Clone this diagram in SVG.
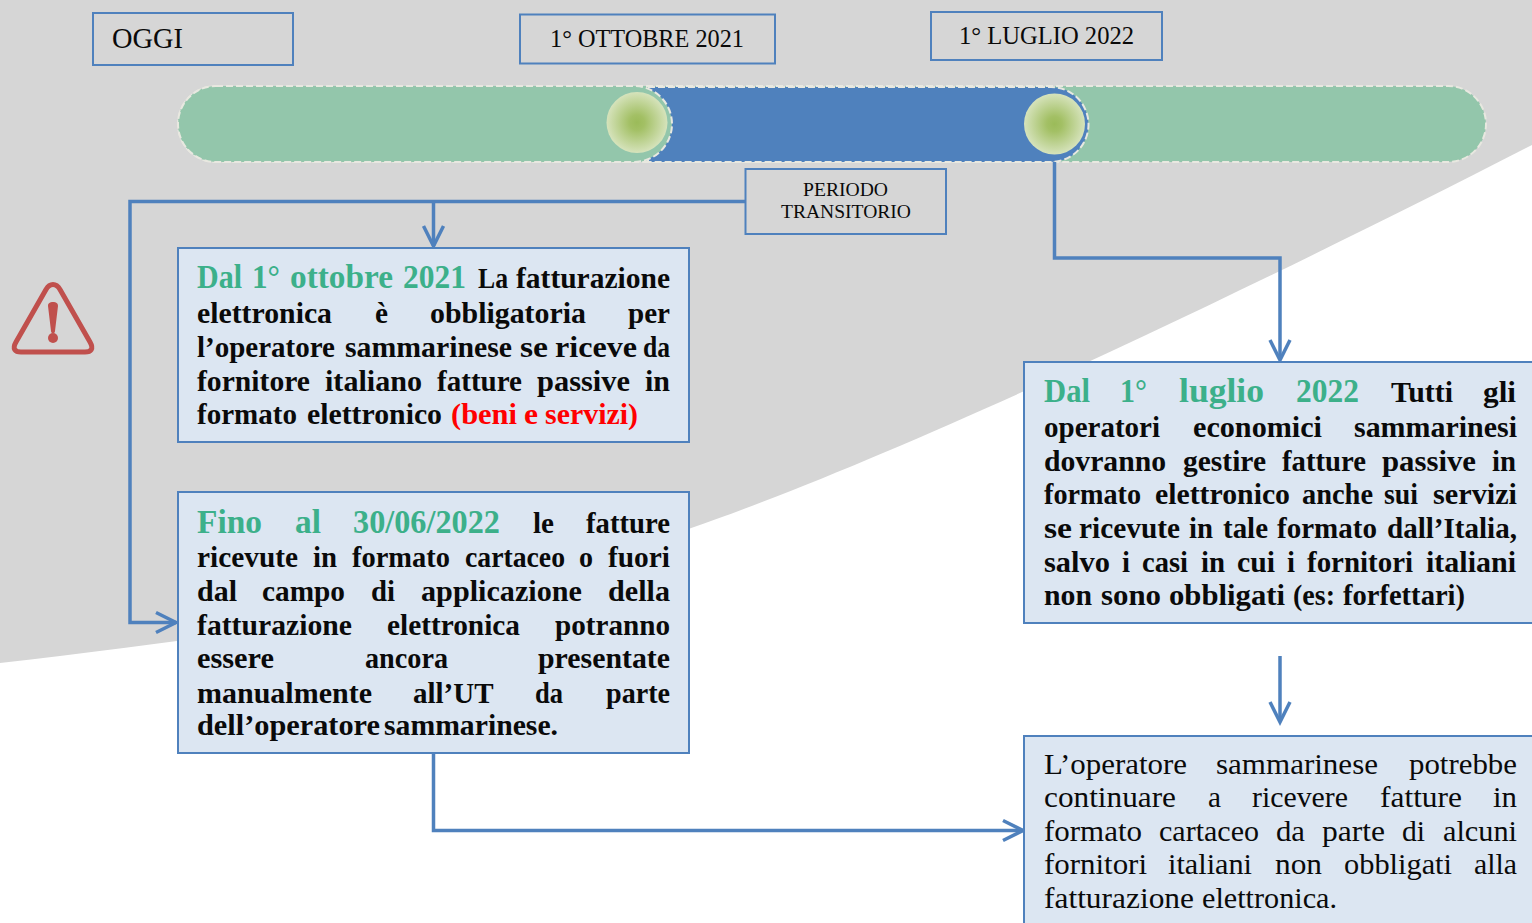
<svg xmlns="http://www.w3.org/2000/svg" width="1532" height="923" viewBox="0 0 1532 923">
<style>
text{font-family:"Liberation Serif","Times New Roman",serif;fill:#0a0a0a}
#box1 text,#box2 text,#box3 text,#box4 text{transform:translateY(1px)}
.b{font-weight:700;font-size:30px}
.h{font-weight:700;font-size:33px;fill:#3cb08a}
.r{font-size:29px}
.red{fill:#ff0000}
.hb{fill:none;stroke:#4f81bd;stroke-width:2}
.tb{fill:#dce6f2;stroke:#4f81bd;stroke-width:2}
.c{fill:none;stroke:#4f81bd;stroke-width:3.5}
.g{fill:#93c6ab;stroke:#e8e8e0;stroke-width:2;stroke-dasharray:7 3}
</style>
<defs>
<radialGradient id="ball"><stop offset="0" stop-color="#9bbb59"/><stop offset="0.25" stop-color="#a3c065"/><stop offset="1" stop-color="#d6e3bc"/></radialGradient>
<marker id="ah" markerUnits="userSpaceOnUse" markerWidth="26" markerHeight="28" refX="22" refY="14" orient="auto"><path d="M2 4 L22 14 L2 24" fill="none" stroke="#4f81bd" stroke-width="3.5"/></marker>
</defs>
<rect width="1532" height="923" fill="#fff"/>
<path d="M0 0H1532V145C1230 300 850 480 640 545C430 610 200 640 0 663Z" fill="#d6d6d6"/>
<g id="timeline">
<rect class="g" x="178" y="86" width="1308" height="76" rx="38"/>
<path d="M648 87H1051A37.500 37.500 0 0 1 1051 162H648Z" fill="#4f81bd" stroke="#e8e8e0" stroke-width="2" stroke-dasharray="7 3"/>
<rect class="g" x="178" y="86" width="494" height="76" rx="38"/>
<circle cx="637" cy="122.500" r="30.500" fill="url(#ball)"/>
<circle cx="1054.500" cy="124" r="30.500" fill="url(#ball)"/>
</g>
<g id="connectors">
<path class="c" d="M745 201.500H130V622.500H176" marker-end="url(#ah)"/>
<path class="c" d="M433.500 201.500V246" marker-end="url(#ah)"/>
<path class="c" d="M1054.500 162V258H1280V360" marker-end="url(#ah)"/>
<path class="c" d="M1280 656V722" marker-end="url(#ah)"/>
<path class="c" d="M433.500 753V830.500H1023" marker-end="url(#ah)"/>
</g>
<g id="warning">
<path d="M53 284.500C50 284.500 48 286 46 289.500L16 342C12 349 15 352 21 352H85C91 352 94 349 90 342L60 289.500C58 286 56 284.500 53 284.500Z" fill="none" stroke="#c0504d" stroke-width="5"/>
<path d="M48 306C48 303 50 302 53 302C56 302 58 303 58 306L55 331C55 334 51 334 51 331Z" fill="#c0504d"/>
<circle cx="53" cy="338" r="5" fill="#c0504d"/>
</g>
<g id="oggi"><rect class="hb" x="93" y="13" width="200" height="52"/><text x="112" y="48" font-size="29" textLength="71" lengthAdjust="spacingAndGlyphs">OGGI</text></g>
<g id="ottobre"><rect class="hb" x="520" y="14.500" width="255" height="49"/><text x="550" y="47" font-size="25" textLength="194" lengthAdjust="spacingAndGlyphs">1° OTTOBRE 2021</text></g>
<g id="luglio"><rect class="hb" x="931" y="12" width="231" height="48"/><text x="959" y="44" font-size="25" textLength="175" lengthAdjust="spacingAndGlyphs">1° LUGLIO 2022</text></g>
<g id="periodo"><rect class="hb" x="745.500" y="169" width="200.500" height="65"/><text x="803" y="196" font-size="19" textLength="85" lengthAdjust="spacingAndGlyphs">PERIODO</text><text x="781" y="218" font-size="19" textLength="130" lengthAdjust="spacingAndGlyphs">TRANSITORIO</text></g>
<g id="box1"><rect class="tb" x="178" y="248" width="511" height="194"/>
<text y="287"><tspan class="h" x="197" textLength="45" lengthAdjust="spacingAndGlyphs">Dal</tspan> <tspan class="h" x="252" textLength="28" lengthAdjust="spacingAndGlyphs">1°</tspan> <tspan class="h" x="290" textLength="103" lengthAdjust="spacingAndGlyphs">ottobre</tspan> <tspan class="h" x="403" textLength="63" lengthAdjust="spacingAndGlyphs">2021</tspan> <tspan class="b" x="478" textLength="30" lengthAdjust="spacingAndGlyphs">La</tspan> <tspan class="b" x="516" textLength="154" lengthAdjust="spacingAndGlyphs">fatturazione</tspan></text>
<text y="322" class="b"><tspan x="197" textLength="135" lengthAdjust="spacingAndGlyphs">elettronica</tspan> <tspan x="375" textLength="13" lengthAdjust="spacingAndGlyphs">è</tspan> <tspan x="430" textLength="156" lengthAdjust="spacingAndGlyphs">obbligatoria</tspan> <tspan x="628" textLength="42" lengthAdjust="spacingAndGlyphs">per</tspan></text>
<text y="356" class="b"><tspan x="197" textLength="138" lengthAdjust="spacingAndGlyphs">l’operatore</tspan> <tspan x="345" textLength="167" lengthAdjust="spacingAndGlyphs">sammarinese</tspan> <tspan x="520" textLength="28" lengthAdjust="spacingAndGlyphs">se</tspan> <tspan x="555" textLength="82" lengthAdjust="spacingAndGlyphs">riceve</tspan> <tspan x="643" textLength="27" lengthAdjust="spacingAndGlyphs">da</tspan></text>
<text y="390" class="b"><tspan x="197" textLength="113" lengthAdjust="spacingAndGlyphs">fornitore</tspan> <tspan x="325" textLength="97" lengthAdjust="spacingAndGlyphs">italiano</tspan> <tspan x="437" textLength="85" lengthAdjust="spacingAndGlyphs">fatture</tspan> <tspan x="537" textLength="93" lengthAdjust="spacingAndGlyphs">passive</tspan> <tspan x="645" textLength="25" lengthAdjust="spacingAndGlyphs">in</tspan></text>
<text y="423" class="b"><tspan x="197" textLength="100" lengthAdjust="spacingAndGlyphs">formato</tspan> <tspan x="307" textLength="135" lengthAdjust="spacingAndGlyphs">elettronico</tspan> <tspan class="red" x="451" textLength="66" lengthAdjust="spacingAndGlyphs">(beni</tspan> <tspan class="red" x="524" textLength="14" lengthAdjust="spacingAndGlyphs">e</tspan> <tspan class="red" x="545" textLength="93" lengthAdjust="spacingAndGlyphs">servizi)</tspan></text>
</g>
<g id="box2"><rect class="tb" x="178" y="492" width="511" height="261"/>
<text y="532"><tspan class="h" x="197" textLength="65" lengthAdjust="spacingAndGlyphs">Fino</tspan> <tspan class="h" x="295" textLength="26" lengthAdjust="spacingAndGlyphs">al</tspan> <tspan class="h" x="353" textLength="147" lengthAdjust="spacingAndGlyphs">30/06/2022</tspan> <tspan class="b" x="533" textLength="21" lengthAdjust="spacingAndGlyphs">le</tspan> <tspan class="b" x="586" textLength="84" lengthAdjust="spacingAndGlyphs">fatture</tspan></text>
<text y="566" class="b"><tspan x="197" textLength="101" lengthAdjust="spacingAndGlyphs">ricevute</tspan> <tspan x="313" textLength="24" lengthAdjust="spacingAndGlyphs">in</tspan> <tspan x="352" textLength="98" lengthAdjust="spacingAndGlyphs">formato</tspan> <tspan x="465" textLength="100" lengthAdjust="spacingAndGlyphs">cartaceo</tspan> <tspan x="579" textLength="14" lengthAdjust="spacingAndGlyphs">o</tspan> <tspan x="608" textLength="62" lengthAdjust="spacingAndGlyphs">fuori</tspan></text>
<text y="600" class="b"><tspan x="197" textLength="40" lengthAdjust="spacingAndGlyphs">dal</tspan> <tspan x="262" textLength="83" lengthAdjust="spacingAndGlyphs">campo</tspan> <tspan x="371" textLength="24" lengthAdjust="spacingAndGlyphs">di</tspan> <tspan x="421" textLength="161" lengthAdjust="spacingAndGlyphs">applicazione</tspan> <tspan x="608" textLength="62" lengthAdjust="spacingAndGlyphs">della</tspan></text>
<text y="634" class="b"><tspan x="197" textLength="155" lengthAdjust="spacingAndGlyphs">fatturazione</tspan> <tspan x="387" textLength="133" lengthAdjust="spacingAndGlyphs">elettronica</tspan> <tspan x="555" textLength="115" lengthAdjust="spacingAndGlyphs">potranno</tspan></text>
<text y="667" class="b"><tspan x="197" textLength="77" lengthAdjust="spacingAndGlyphs">essere</tspan> <tspan x="365" textLength="83" lengthAdjust="spacingAndGlyphs">ancora</tspan> <tspan x="538" textLength="132" lengthAdjust="spacingAndGlyphs">presentate</tspan></text>
<text y="701.500" class="b"><tspan x="197" textLength="175" lengthAdjust="spacingAndGlyphs">manualmente</tspan> <tspan x="413" textLength="80" lengthAdjust="spacingAndGlyphs">all’UT</tspan> <tspan x="535" textLength="28" lengthAdjust="spacingAndGlyphs">da</tspan> <tspan x="606" textLength="64" lengthAdjust="spacingAndGlyphs">parte</tspan></text>
<text y="734" class="b"><tspan x="197" textLength="183" lengthAdjust="spacingAndGlyphs">dell’operatore</tspan> <tspan x="384" textLength="174" lengthAdjust="spacingAndGlyphs">sammarinese.</tspan></text>
</g>
<g id="box3"><rect class="tb" x="1024" y="362" width="516" height="261"/>
<text y="401"><tspan class="h" x="1044" textLength="46" lengthAdjust="spacingAndGlyphs">Dal</tspan> <tspan class="h" x="1120" textLength="27" lengthAdjust="spacingAndGlyphs">1°</tspan> <tspan class="h" x="1179" textLength="85" lengthAdjust="spacingAndGlyphs">luglio</tspan> <tspan class="h" x="1296" textLength="63" lengthAdjust="spacingAndGlyphs">2022</tspan> <tspan class="b" x="1391" textLength="62" lengthAdjust="spacingAndGlyphs">Tutti</tspan> <tspan class="b" x="1483" textLength="33" lengthAdjust="spacingAndGlyphs">gli</tspan></text>
<text y="436" class="b"><tspan x="1044" textLength="116" lengthAdjust="spacingAndGlyphs">operatori</tspan> <tspan x="1193" textLength="129" lengthAdjust="spacingAndGlyphs">economici</tspan> <tspan x="1354" textLength="163" lengthAdjust="spacingAndGlyphs">sammarinesi</tspan></text>
<text y="470" class="b"><tspan x="1044" textLength="122" lengthAdjust="spacingAndGlyphs">dovranno</tspan> <tspan x="1183" textLength="83" lengthAdjust="spacingAndGlyphs">gestire</tspan> <tspan x="1282" textLength="84" lengthAdjust="spacingAndGlyphs">fatture</tspan> <tspan x="1382" textLength="94" lengthAdjust="spacingAndGlyphs">passive</tspan> <tspan x="1492" textLength="24" lengthAdjust="spacingAndGlyphs">in</tspan></text>
<text y="503" class="b"><tspan x="1044" textLength="97" lengthAdjust="spacingAndGlyphs">formato</tspan> <tspan x="1155" textLength="135" lengthAdjust="spacingAndGlyphs">elettronico</tspan> <tspan x="1302" textLength="71" lengthAdjust="spacingAndGlyphs">anche</tspan> <tspan x="1384" textLength="34" lengthAdjust="spacingAndGlyphs">sui</tspan> <tspan x="1433" textLength="84" lengthAdjust="spacingAndGlyphs">servizi</tspan></text>
<text y="537" class="b"><tspan x="1044" textLength="28" lengthAdjust="spacingAndGlyphs">se</tspan> <tspan x="1079" textLength="101" lengthAdjust="spacingAndGlyphs">ricevute</tspan> <tspan x="1189" textLength="24" lengthAdjust="spacingAndGlyphs">in</tspan> <tspan x="1223" textLength="45" lengthAdjust="spacingAndGlyphs">tale</tspan> <tspan x="1277" textLength="100" lengthAdjust="spacingAndGlyphs">formato</tspan> <tspan x="1387" textLength="130" lengthAdjust="spacingAndGlyphs">dall’Italia,</tspan></text>
<text y="571" class="b"><tspan x="1044" textLength="66" lengthAdjust="spacingAndGlyphs">salvo</tspan> <tspan x="1122" textLength="8" lengthAdjust="spacingAndGlyphs">i</tspan> <tspan x="1142" textLength="46" lengthAdjust="spacingAndGlyphs">casi</tspan> <tspan x="1201" textLength="24" lengthAdjust="spacingAndGlyphs">in</tspan> <tspan x="1237" textLength="38" lengthAdjust="spacingAndGlyphs">cui</tspan> <tspan x="1287" textLength="8" lengthAdjust="spacingAndGlyphs">i</tspan> <tspan x="1307" textLength="106" lengthAdjust="spacingAndGlyphs">fornitori</tspan> <tspan x="1426" textLength="90" lengthAdjust="spacingAndGlyphs">italiani</tspan></text>
<text y="604" class="b"><tspan x="1044" textLength="48" lengthAdjust="spacingAndGlyphs">non</tspan> <tspan x="1101" textLength="60" lengthAdjust="spacingAndGlyphs">sono</tspan> <tspan x="1169" textLength="116" lengthAdjust="spacingAndGlyphs">obbligati</tspan> <tspan x="1293" textLength="42" lengthAdjust="spacingAndGlyphs">(es:</tspan> <tspan x="1343" textLength="122" lengthAdjust="spacingAndGlyphs">forfettari)</tspan></text>
</g>
<g id="box4"><rect class="tb" x="1024" y="736" width="516" height="194"/>
<text y="773" class="r"><tspan x="1044" textLength="143" lengthAdjust="spacingAndGlyphs">L’operatore</tspan> <tspan x="1216" textLength="162" lengthAdjust="spacingAndGlyphs">sammarinese</tspan> <tspan x="1409" textLength="108" lengthAdjust="spacingAndGlyphs">potrebbe</tspan></text>
<text y="806" class="r"><tspan x="1044" textLength="132" lengthAdjust="spacingAndGlyphs">continuare</tspan> <tspan x="1208" textLength="13" lengthAdjust="spacingAndGlyphs">a</tspan> <tspan x="1252" textLength="96" lengthAdjust="spacingAndGlyphs">ricevere</tspan> <tspan x="1380" textLength="82" lengthAdjust="spacingAndGlyphs">fatture</tspan> <tspan x="1493" textLength="24" lengthAdjust="spacingAndGlyphs">in</tspan></text>
<text y="840" class="r"><tspan x="1044" textLength="98" lengthAdjust="spacingAndGlyphs">formato</tspan> <tspan x="1159" textLength="100" lengthAdjust="spacingAndGlyphs">cartaceo</tspan> <tspan x="1276" textLength="29" lengthAdjust="spacingAndGlyphs">da</tspan> <tspan x="1322" textLength="63" lengthAdjust="spacingAndGlyphs">parte</tspan> <tspan x="1402" textLength="23" lengthAdjust="spacingAndGlyphs">di</tspan> <tspan x="1443" textLength="74" lengthAdjust="spacingAndGlyphs">alcuni</tspan></text>
<text y="873" class="r"><tspan x="1044" textLength="103" lengthAdjust="spacingAndGlyphs">fornitori</tspan> <tspan x="1168" textLength="84" lengthAdjust="spacingAndGlyphs">italiani</tspan> <tspan x="1275" textLength="47" lengthAdjust="spacingAndGlyphs">non</tspan> <tspan x="1344" textLength="108" lengthAdjust="spacingAndGlyphs">obbligati</tspan> <tspan x="1474" textLength="43" lengthAdjust="spacingAndGlyphs">alla</tspan></text>
<text y="907" class="r"><tspan x="1044" textLength="150" lengthAdjust="spacingAndGlyphs">fatturazione</tspan> <tspan x="1202" textLength="135" lengthAdjust="spacingAndGlyphs">elettronica.</tspan></text>
</g>
</svg>
